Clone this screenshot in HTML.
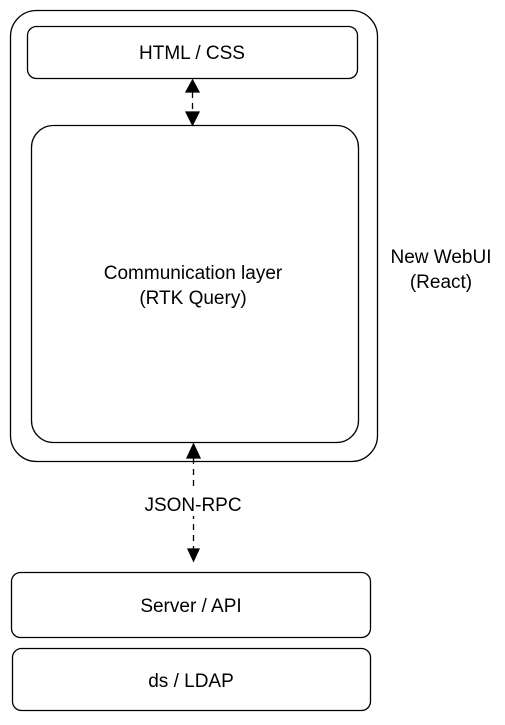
<!DOCTYPE html>
<html><head><style>body{margin:0;background:#fff}</style></head><body>
<svg width="505" height="720" xmlns="http://www.w3.org/2000/svg" font-family="Liberation Sans, sans-serif" font-size="19" fill="none" stroke="#000" stroke-width="1.3">
<rect x="10.5" y="10.5" width="367" height="451" rx="26"/>
<rect x="27.5" y="26.5" width="330" height="52" rx="9"/>
<rect x="31.5" y="125.5" width="327" height="317" rx="22"/>
<rect x="11.5" y="572.5" width="359" height="65" rx="9"/>
<rect x="12.5" y="648.5" width="358" height="62" rx="9"/>
<line x1="192.5" y1="92" x2="192.5" y2="112" stroke-dasharray="6 5"/>
<polygon points="192.5,80 186,92 199,92" fill="#000"/>
<polygon points="192.5,125 186,112 199,112" fill="#000"/>
<line x1="193.5" y1="458" x2="193.5" y2="550" stroke-dasharray="6 5"/>
<polygon points="193.5,444 187,458 200,458" fill="#000"/>
<polygon points="193.5,561 188,549 199,549" fill="#000"/>
<g fill="#000" stroke="none" text-anchor="middle">
<text x="192" y="59">HTML / CSS</text>
<text x="193" y="279">Communication layer</text>
<text x="193" y="304">(RTK Query)</text>
<text x="441" y="263">New WebUI</text>
<text x="441" y="288">(React)</text>
<rect x="135" y="488" width="115" height="28" fill="#fff"/>
<text x="193" y="511">JSON-RPC</text>
<text x="191" y="612">Server / API</text>
<text x="191" y="687">ds / LDAP</text>
</g>
</svg>
</body></html>
